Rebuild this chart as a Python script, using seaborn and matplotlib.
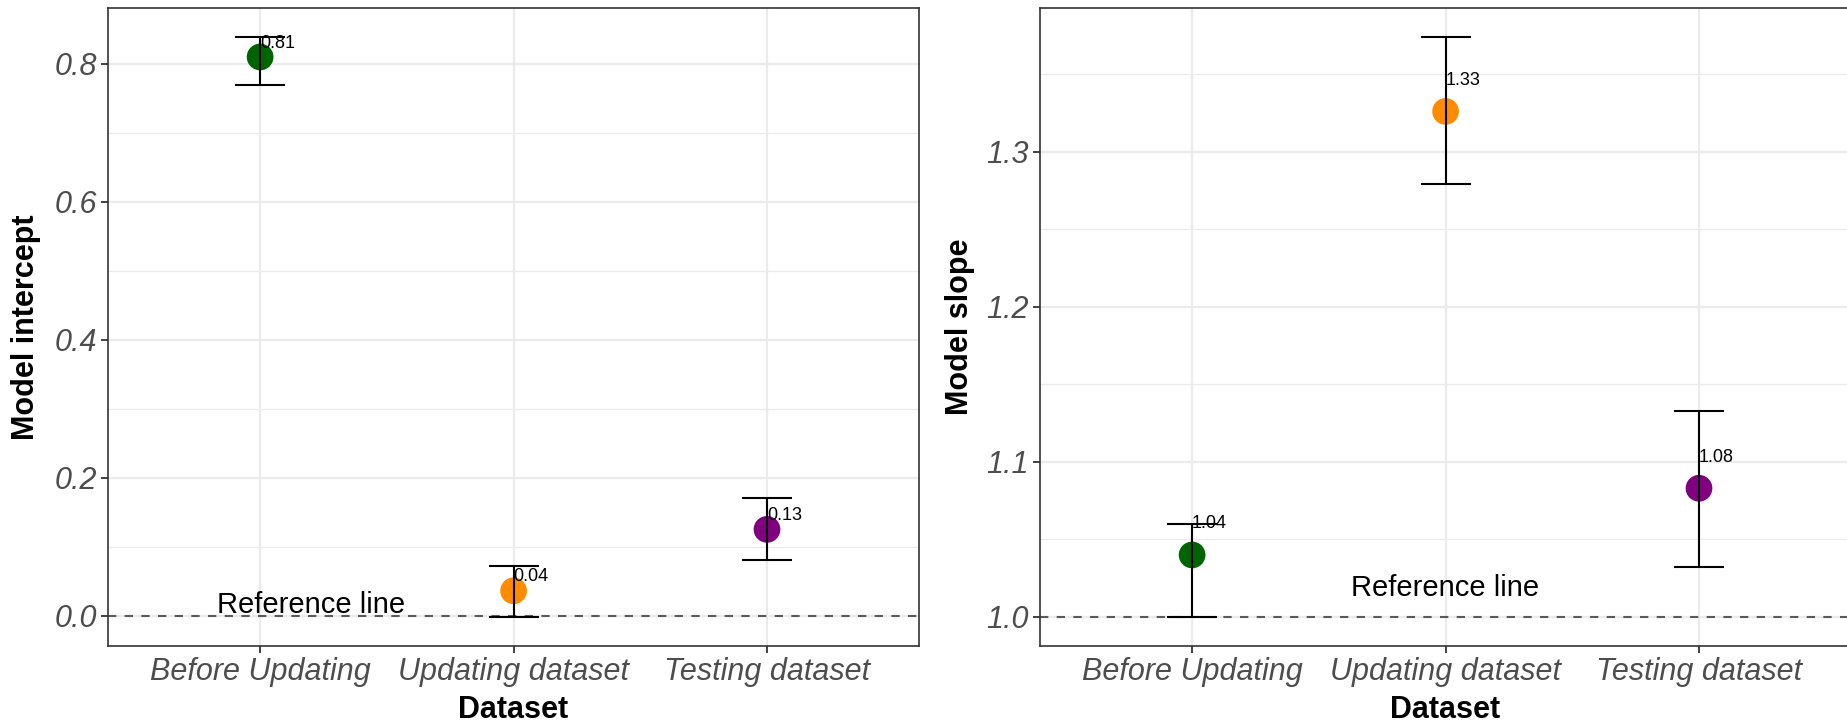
import numpy as np
import pandas as pd
import matplotlib
matplotlib.use("Agg")
import matplotlib.pyplot as plt
import seaborn as sns
from matplotlib.ticker import MultipleLocator

# ---- data ----
datasets = ["Before Updating", "Updating dataset", "Testing dataset"]
colors = ["#006400", "#FF8C00", "#800080"]

intercept_est = [0.81, 0.036, 0.125]
intercept_lo = [0.769, -0.002, 0.080]
intercept_hi = [0.839, 0.072, 0.170]
intercept_labels = ["0.81", "0.04", "0.13"]

slope_est = [1.040, 1.326, 1.083]
slope_lo = [1.000, 1.279, 1.032]
slope_hi = [1.060, 1.374, 1.133]
slope_labels = ["1.04", "1.33", "1.08"]

sns.set_style("white")
plt.rcParams["font.family"] = ["Liberation Sans", "DejaVu Sans"]

fig = plt.figure(figsize=(18.47, 7.25), dpi=100)
ax1 = fig.add_axes([0.0585, 0.109, 0.4391, 0.880])
ax2 = fig.add_axes([0.5631, 0.109, 0.4391, 0.880])

BORDER = "#333333"
GRID = "#EBEBEB"


def panel(ax, est, lo, hi, labels, ylabel, ref, major, minor, ref_x, ref_dy):
    df = pd.DataFrame({"Dataset": datasets, "est": est})
    xs = np.arange(len(datasets))
    sns.scatterplot(data=df, x="Dataset", y="est", hue="Dataset",
                    palette=dict(zip(datasets, colors)), s=370,
                    edgecolor="none", legend=False, ax=ax, zorder=3)
    ax.axhline(ref, color="#5A5A5A", lw=1.5, ls=(0, (4, 4)), zorder=2)
    for i in range(len(datasets)):
        ax.text(xs[i], est[i] + 0.02, labels[i], ha="left", va="center",
                fontsize=13, color="black", zorder=4)
    ax.errorbar(xs, est,
                yerr=[np.array(est) - np.array(lo), np.array(hi) - np.array(est)],
                fmt="none", ecolor="black", elinewidth=1.5, capsize=18,
                capthick=1.5, zorder=5)
    ax.text(ref_x, ref + ref_dy, "Reference line", ha="center", va="center",
            fontsize=21, color="black", zorder=4)

    lo_all, hi_all = min(lo), max(hi)
    rng = hi_all - lo_all
    ax.set_ylim(lo_all - 0.05 * rng, hi_all + 0.05 * rng)
    ax.set_xlim(-0.6, len(datasets) - 0.4)
    ax.yaxis.set_major_locator(MultipleLocator(major))
    ax.yaxis.set_minor_locator(MultipleLocator(minor))
    ax.yaxis.set_major_formatter(matplotlib.ticker.FormatStrFormatter("%.1f"))
    ax.grid(True, which="major", color=GRID, lw=1.6, zorder=0)
    ax.grid(True, which="minor", axis="y", color=GRID, lw=0.9, zorder=0)
    ax.set_axisbelow(True)
    for s in ax.spines.values():
        s.set_color(BORDER)
        s.set_linewidth(1.2)
        s.set_visible(True)
    ax.tick_params(axis="both", which="major", length=5, width=1.3,
                   color=BORDER, labelcolor="#4D4D4D", labelsize=22, pad=3,
                   direction="out", bottom=True, left=True)
    ax.tick_params(axis="both", which="minor", length=0, bottom=False, left=False)
    for lab in ax.get_xticklabels() + ax.get_yticklabels():
        lab.set_fontstyle("italic")
    ax.set_xlabel("Dataset", fontsize=22, fontweight="bold", color="black",
                  labelpad=6)
    ax.set_ylabel(ylabel, fontsize=22, fontweight="bold", color="black")


panel(ax1, intercept_est, intercept_lo, intercept_hi, intercept_labels,
      "Model intercept", 0.0, 0.2, 0.1, 0.2, 0.016)
panel(ax2, slope_est, slope_lo, slope_hi, slope_labels,
      "Model slope", 1.0, 0.1, 0.05, 1.0, 0.019)

ax1.yaxis.set_label_coords(-0.083, 0.5)
ax2.yaxis.set_label_coords(-0.080, 0.5)

fig.savefig("out.png", dpi=100)
